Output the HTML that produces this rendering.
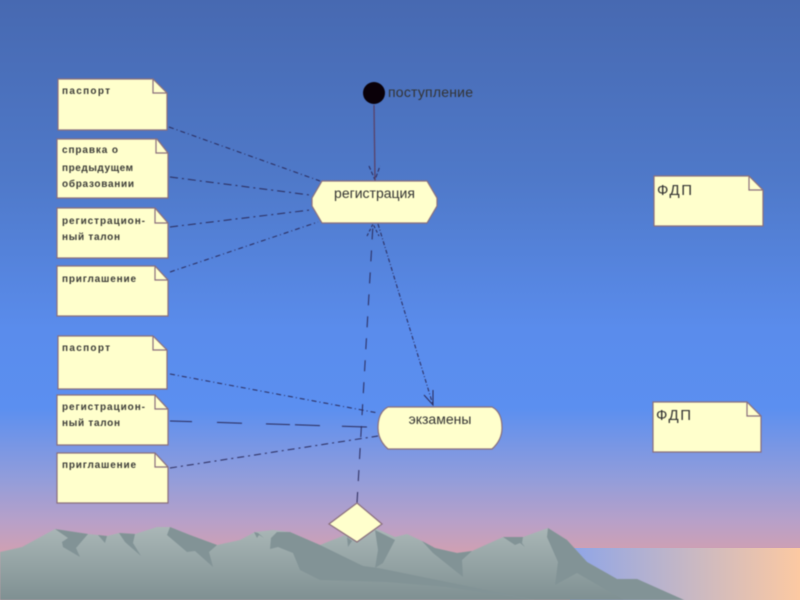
<!DOCTYPE html>
<html><head><meta charset="utf-8"><style>
html,body{margin:0;padding:0;background:#4b6fb8}
svg{display:block}
text{font-family:"Liberation Sans",sans-serif}
.n{fill:#ffffcc;stroke:#8a6f7c;stroke-width:1.2}
.f{fill:none;stroke:#8a6f7c;stroke-width:1.2}
.t{font-size:10px;font-weight:bold;fill:#3c3c38}
.c{fill:none;stroke:#2a2a5a;stroke-width:1}
.l{font-size:14px;fill:#333}
.d{filter:blur(.45px)}
</style></head><body>
<svg width="800" height="600" viewBox="0 0 800 600" xmlns="http://www.w3.org/2000/svg">
<defs>
<linearGradient id="bg" x1="0" y1="0" x2="0" y2="1">
<stop offset="0" stop-color="#4769b1"/><stop offset=".3" stop-color="#4f79c9"/><stop offset=".55" stop-color="#5a8cec"/><stop offset=".68" stop-color="#5b8ff0"/><stop offset=".8" stop-color="#939dda"/><stop offset=".87" stop-color="#b8a0c8"/><stop offset=".925" stop-color="#d2a0b0"/><stop offset="1" stop-color="#d8a4ae"/>
</linearGradient>
<linearGradient id="sea" x1="0" y1="0" x2="1" y2="0">
<stop offset="0" stop-color="#8ea5e8"/><stop offset="1" stop-color="#fcc9a2"/>
</linearGradient>
<linearGradient id="mt" gradientUnits="userSpaceOnUse" x1="0" y1="527" x2="0" y2="600">
<stop offset="0" stop-color="#aab7b7"/><stop offset="1" stop-color="#7f9092"/>
</linearGradient>
</defs>
<rect width="800" height="600" fill="url(#bg)"/>
<rect x="570" y="548" width="230" height="52" fill="url(#sea)"/>
<g class="d">
<polygon fill="url(#mt)" points="0,552 22,547 55,529 88,534 98,535 107,536 119,533 135,534 157,527 170,527 190,535 217,545 240,540 255,532 273,530 290,532 320,545 340,537 357,530 375,528 395,537 407,534 422,541 435,548 457,553 472,551 503,537 523,537 548,528 567,540 587,562 617,579 637,579 684,600 0,600"/>
<g fill="#829396">
<polygon points="55,529 88,534 76,548 80,557 63,547 62,542 68,538"/>
<polygon points="98,535 107,536 105,543"/>
<polygon points="119,533 135,534 133,543 141,556 125,542"/>
<polygon points="170,527 190,535 217,545 209,552 213,567 195,551 187,552 167,535"/>
<polygon points="254,532 258,533 264,538 259,535 257,538"/>
<polygon points="271,538 277,532 290,532 320,545 363,566 378,568 536,600 533,600 447,587 387,582 320,580 300,570 293,553 278,547 270,549"/>
<polygon points="347,537 352,541 348,547"/>
<polygon points="375,530 395,540 383,563 375,568 378,550"/>
<polygon points="422,541 435,548 457,553 472,551 462,560 463,577 433,553"/>
<polygon points="503,537 523,537 522,543 525,547 520,543 515,545"/>
<polygon points="548,528 567,540 587,562 617,579 637,579 684,600 624,600 577,573 555,585 558,562 547,537"/>
</g>

<g class="c">
<line x1="169" y1="127" x2="320" y2="181" stroke-dasharray="5 3 1 3"/>
<line x1="170" y1="177" x2="310" y2="195" stroke-dasharray="8 4 2 4"/>
<line x1="170" y1="227" x2="310" y2="210" stroke-dasharray="8 4 2 4"/>
<line x1="170" y1="272" x2="318" y2="222" stroke-dasharray="5 3 1 3"/>
<line x1="170" y1="374" x2="378" y2="413" stroke-dasharray="5 3 1 3"/>
<line x1="170" y1="421" x2="367" y2="427" stroke-dasharray="22 25 25 24 24 5 25 22 25"/>
<line x1="170" y1="468" x2="378" y2="436" stroke-dasharray="7 4 2 4"/>
<line x1="357" y1="503" x2="373" y2="224" stroke-dasharray="11 11"/>
<line x1="378" y1="224" x2="433" y2="405" stroke-dasharray="4 2 1 2"/>
<path d="M367 236L373 224L379 236" stroke-dasharray="3 2"/>
<path d="M424 395L433 405L433 390"/>
<path d="M369 166L375 180L380 166" stroke-dasharray="4 2"/>
</g>
<line x1="374" y1="105" x2="375" y2="180" stroke="#5a3f63" stroke-width="1.2"/>
<circle cx="374" cy="93" r="11" fill="#0a0008"/>
<text x="388" y="97" class="l" textLength="85" lengthAdjust="spacing">поступление</text>

<polygon class="n" points="322,181 427,181 437,198 437,206 427,223 322,223 312,206 312,198"/>
<text x="374.500" y="198" class="l" text-anchor="middle">регистрация</text>
<path class="n" d="M388,407H492Q502,412 502,428Q502,440 492,449H388Q378,440 378,428Q378,412 388,407Z"/>
<text x="440" y="424" class="l" text-anchor="middle">экзамены</text>
<polygon class="n" points="357,503 382,524 357,542 329,524"/>

<polygon class="n" points="58,79 153,79 167,93 167,130 58,130"/><path class="f" d="M153,79V93H167"/>
<text x="62" y="94" class="t" textLength="48">паспорт</text>
<polygon class="n" points="57,139 157,139 168,153 168,198 57,198"/><path class="f" d="M156,139V153H168"/>
<text x="62" y="153" class="t" textLength="56">справка о</text><text x="62" y="171" class="t" textLength="71">предыдущем</text><text x="62" y="187" class="t" textLength="72">образовании</text>
<polygon class="n" points="57,208 155,208 168,223 168,258 57,258"/><path class="f" d="M155,208V223H168"/>
<text x="62" y="224" class="t" textLength="83">регистрацион-</text><text x="62" y="240" class="t" textLength="58">ный талон</text>
<polygon class="n" points="57,266 155,266 168,280 168,316 57,316"/><path class="f" d="M155,266V280H168"/>
<text x="62" y="282" class="t" textLength="74">приглашение</text>
<polygon class="n" points="58,336 153,336 167,350 167,389 58,389"/><path class="f" d="M153,336V350H167"/>
<text x="62" y="351" class="t" textLength="48">паспорт</text>
<polygon class="n" points="57,395 155,395 168,409 168,445 57,445"/><path class="f" d="M155,395V409H168"/>
<text x="62" y="410" class="t" textLength="83">регистрацион-</text><text x="62" y="426" class="t" textLength="58">ный талон</text>
<polygon class="n" points="57,453 155,453 168,467 168,503 57,503"/><path class="f" d="M155,453V467H168"/>
<text x="62" y="468" class="t" textLength="74">приглашение</text>

<polygon class="n" points="654,176 749,176 763,190 763,226 654,226"/><path class="f" d="M749,176V190H763"/>
<text x="657" y="195" class="l" style="font-size:15px" textLength="35">ФДП</text>
<polygon class="n" points="653,402 747,402 761,416 761,452 653,452"/><path class="f" d="M747,402V416H761"/>
<text x="656" y="420" class="l" style="font-size:15px" textLength="35">ФДП</text>
</g>
</svg>
</body></html>
